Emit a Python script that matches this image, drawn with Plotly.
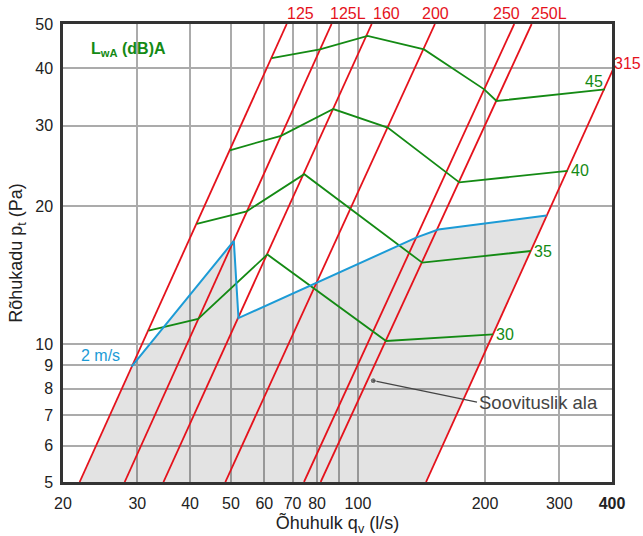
import math
import plotly.graph_objects as go

# Duct size lines: flow (l/s) where each line meets 5 Pa and 50 Pa
duct_names = ["125", "125L", "160", "200", "250", "250L", "315"]
duct_q_at_5pa = [21.9, 28.0, 34.6, 48.5, 74.5, 81.6, 145.0]
duct_q_at_50pa = [67.8, 86.6, 107.8, 152.2, 234.6, 258.0, 450.0]
duct_label_q = [72.9, 94.7, 116.6, 153.0, 225.4, 283.6]

# Sound power level isolines, LwA dB(A)
lwa_levels = ["30", "35", "40", "45"]
lwa_q = [
    [31.9, 41.8, 61.0, 116.6, 209.0],
    [41.5, 54.5, 74.6, 142.0, 257.0],
    [49.7, 65.7, 87.4, 117.6, 173.9, 314.0],
    [62.5, 81.3, 105.4, 143.4, 199.2, 213.0, 385.0],
]
lwa_p = [
    [10.7, 11.35, 15.7, 10.16, 10.5],
    [18.3, 19.5, 23.5, 15.06, 15.97],
    [26.5, 28.5, 32.6, 29.7, 22.55, 23.9],
    [42.1, 44.0, 47.1, 44.0, 36.0, 33.95, 36.0],
]

# 2 m/s velocity limit (upper edge of the recommended area)
vel_q = [29.07, 50.8, 52.1, 137.8, 155.0, 280.0]
vel_p = [8.93, 16.8, 11.4, 17.1, 17.8, 19.1]

# Pointer to the recommended area label
area_point = (108.7, 8.32)
area_text_at = (191.5, 7.47)

x_ticks = [20, 30, 40, 50, 60, 70, 80, 90, 100, 200, 300, 400]
x_tick_text = ["20", "30", "40", "50", "60", "70", "80", "", "100", "200", "300", "<b>400</b>"]
y_ticks = [5, 6, 7, 8, 9, 10, 20, 30, 40, 50]

RED = "#e5121c"
GREEN = "#148a14"
BLUE = "#1c9bd6"
FONT = "Liberation Sans, Arial, sans-serif"

fig = go.Figure()

# Recommended area: bounded by the 125 line, the velocity limit, the 315 line and 5 Pa
area_q = [duct_q_at_5pa[0]] + vel_q + [duct_q_at_5pa[-1]]
area_p = [5] + vel_p + [5]
fig.add_trace(go.Scatter(
    x=area_q, y=area_p, mode="lines", fill="toself",
    fillcolor="rgba(0,0,0,0.11)", line=dict(width=0), hoverinfo="skip",
))

for q5, q50 in zip(duct_q_at_5pa, duct_q_at_50pa):
    fig.add_trace(go.Scatter(x=[q5, q50], y=[5, 50], mode="lines",
                             line=dict(color=RED, width=1.8), hoverinfo="skip"))

for qs, ps in zip(lwa_q, lwa_p):
    fig.add_trace(go.Scatter(x=qs, y=ps, mode="lines",
                             line=dict(color=GREEN, width=1.8), hoverinfo="skip"))

fig.add_trace(go.Scatter(x=vel_q, y=vel_p, mode="lines",
                         line=dict(color=BLUE, width=2), hoverinfo="skip"))

fig.add_trace(go.Scatter(
    x=[area_point[0], area_text_at[0]], y=[area_point[1], area_text_at[1]],
    mode="lines+markers", line=dict(color="#444", width=1.2),
    marker=dict(size=[6, 0], color="#444"), hoverinfo="skip",
))

ann = []
# Duct size labels along the top edge
for name, lq in zip(duct_names[:-1], duct_label_q):
    ann.append(dict(x=math.log10(lq), y=1, xref="x", yref="paper", text=name,
                    showarrow=False, yanchor="middle", yshift=11,
                    font=dict(color=RED, size=16, family=FONT)))
# 315 sits just outside the right edge of the plot
ann.append(dict(x=1.056, y=math.log10(40.9), xref="paper", yref="y", text=duct_names[-1],
                xanchor="right", showarrow=False,
                font=dict(color=RED, size=16, family=FONT)))

# Isoline level labels at the line ends
for lvl, qs, ps in zip(lwa_levels, lwa_q, lwa_p):
    if lvl == "45":
        ann.append(dict(x=math.log10(qs[-1]), y=math.log10(ps[-1]), text=lvl,
                        showarrow=False, xanchor="right", yanchor="middle",
                        xshift=0, yshift=8,
                        font=dict(color=GREEN, size=16, family=FONT)))
    else:
        ann.append(dict(x=math.log10(qs[-1]), y=math.log10(ps[-1]), text=lvl,
                        showarrow=False, xanchor="left", yanchor="middle",
                        xshift=1,
                        font=dict(color=GREEN, size=16, family=FONT)))

ann.append(dict(x=math.log10(28.6), y=math.log10(43.9), text="<b>L<sub>wA</sub> (dB)A</b>",
                showarrow=False, font=dict(color=GREEN, size=16, family=FONT)))
ann.append(dict(x=math.log10(vel_q[0]), y=math.log10(vel_p[0]), text="2 m/s",
                showarrow=False, xanchor="right", yanchor="middle", xshift=-10, yshift=11,
                font=dict(color=BLUE, size=16, family=FONT)))
ann.append(dict(x=math.log10(area_text_at[0]), y=math.log10(area_text_at[1]),
                text="Soovituslik ala", showarrow=False, xanchor="left", yanchor="middle",
                font=dict(color="#444", size=18.5, family=FONT)))

axis_common = dict(
    type="log", showgrid=True, gridcolor="#ababab", gridwidth=1.5,
    showline=True, linecolor="#333", linewidth=2.5, mirror=True,
    ticks="", zeroline=False, automargin=False,
    tickfont=dict(size=16, color="#222", family=FONT),
)

fig.update_layout(
    width=643, height=536,
    margin=dict(l=63, r=31, t=24, b=54),
    paper_bgcolor="white", plot_bgcolor="white",
    showlegend=False,
    annotations=ann,
    xaxis=dict(axis_common, range=[math.log10(20), math.log10(400)],
               tickmode="array", tickvals=x_ticks, ticktext=x_tick_text,
               ticklabelstandoff=5,
               title=dict(text="Õhuhulk q<sub>v</sub> (l/s)", standoff=2,
                          font=dict(size=18, color="#222", family=FONT))),
    yaxis=dict(axis_common, range=[math.log10(5), math.log10(50)],
               tickmode="array", tickvals=y_ticks, ticktext=[str(v) for v in y_ticks],
               ticklabelstandoff=4,
               title=dict(text="Rõhukadu p<sub>t</sub> (Pa)", standoff=8,
                          font=dict(size=18, color="#222", family=FONT))),
)

fig.write_html("out.html")
